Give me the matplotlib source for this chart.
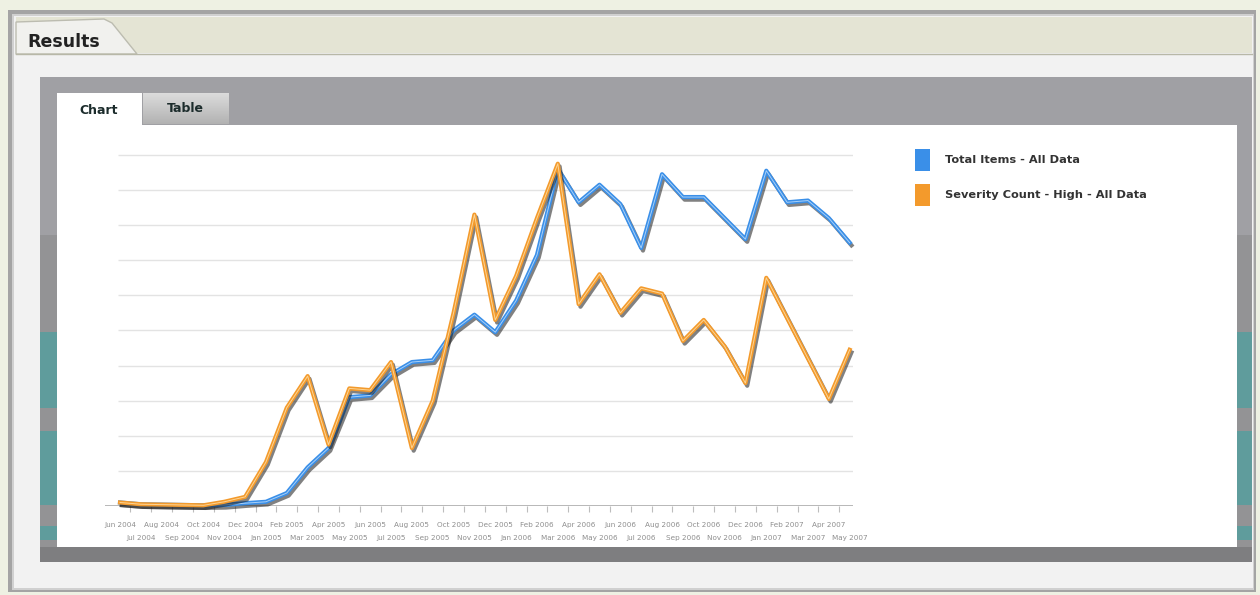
import numpy as np
import matplotlib
matplotlib.use('Agg')
import matplotlib.pyplot as plt
import matplotlib.patheffects as pe
from matplotlib.patches import Rectangle, Polygon

# monthly series, Jun 2004 .. May 2007
months = ['Jun 2004', 'Jul 2004', 'Aug 2004', 'Sep 2004', 'Oct 2004', 'Nov 2004',
          'Dec 2004', 'Jan 2005', 'Feb 2005', 'Mar 2005', 'Apr 2005', 'May 2005',
          'Jun 2005', 'Jul 2005', 'Aug 2005', 'Sep 2005', 'Oct 2005', 'Nov 2005',
          'Dec 2005', 'Jan 2006', 'Feb 2006', 'Mar 2006', 'Apr 2006', 'May 2006',
          'Jun 2006', 'Jul 2006', 'Aug 2006', 'Sep 2006', 'Oct 2006', 'Nov 2006',
          'Dec 2006', 'Jan 2007', 'Feb 2007', 'Mar 2007', 'Apr 2007', 'May 2007']

total_items = [1.0, 0.5, 0.4, 0.3, 0.2, 0.3, 0.8, 1.2, 3.7, 11.0, 16.5, 31.0,
               31.5, 37.5, 41.0, 41.5, 50.0, 54.5, 49.5, 58.5, 71.5, 96.0, 86.5, 91.5,
               86.0, 73.5, 94.5, 88.0, 88.0, 82.0, 76.0, 95.5, 86.5, 87.0, 82.0, 75.0]

severity_high = [1.0, 0.5, 0.4, 0.3, 0.2, 1.2, 2.6, 12.5, 28.0, 37.0, 17.5, 33.5,
                 33.0, 41.0, 16.5, 30.0, 55.0, 83.0, 53.0, 65.5, 82.0, 97.5, 57.5, 66.0,
                 55.0, 62.0, 60.5, 47.0, 53.0, 45.5, 35.0, 65.0, 53.5, 42.0, 30.5, 44.5]

series_names = ['Total Items - All Data', 'Severity Count - High - All Data']
series_colors = ['#3a8fe8', '#f39a2c']
highlight_colors = ['#a9d0f7', '#fcd596']

W, H = 1260, 595
fig = plt.figure(figsize=(W / 100, H / 100), dpi=100)
fig.patch.set_facecolor('#eef1e3')

# page chrome in pixel coordinates
bg = fig.add_axes([0, 0, 1, 1])
bg.set_xlim(0, W)
bg.set_ylim(H, 0)
bg.axis('off')


def box(x0, y0, x1, y1, color, **kw):
    bg.add_patch(Rectangle((x0, y0), x1 - x0, y1 - y0, facecolor=color,
                           edgecolor='none', **kw))


box(8, 10, 1256, 592, '#a4a4a4')
box(12, 14, 1254, 590, '#d0d0d0')
box(14, 16, 1253, 588, '#f2f2f2')

# header bar with the Results tab
box(16, 17, 1252, 53, '#e4e4d4')
bg.plot([16, 1252], [53.5, 53.5], color='#b8b8a8', lw=1)
bg.add_patch(Polygon([(16, 54), (16, 22), (104, 19), (112, 23), (137, 54)],
                     closed=True, facecolor='#f1f1ee', edgecolor='#bcbcb0', lw=1))
bg.text(27, 42, 'Results', fontsize=12.5, fontweight='bold', color='#222222',
        va='center', ha='left')

# grey frame around the chart
box(40, 77, 1252, 562, '#a0a0a4')
for x0, x1 in [(40, 57), (1237, 1252)]:
    box(x0, 235, x1, 547, '#939395')
    for y0, y1 in [(332, 408), (431, 505), (526, 540)]:
        box(x0, y0, x1, y1, '#5f9c9c')
box(40, 547, 1252, 562, '#7e7e80')
box(57, 125, 1237, 547, 'white')

# tabs
grad = np.linspace(0.86, 0.70, 32)[:, None, None] * np.ones((1, 2, 3))
bg.imshow(grad, extent=(143, 229, 124, 93), aspect='auto', zorder=2)
bg.set_xlim(0, W)
bg.set_ylim(H, 0)
box(57, 93, 142, 127, 'white', zorder=2)
bg.text(99, 111, 'Chart', fontsize=9, fontweight='bold', color='#1c2c2c',
        ha='center', va='center', zorder=3)
bg.text(185, 109, 'Table', fontsize=9, fontweight='bold', color='#1c2c2c',
        ha='center', va='center', zorder=3)

# legend
for i, (name, col) in enumerate(zip(series_names, series_colors)):
    y0 = 149 + i * 35
    box(915, y0, 930, y0 + 22, col)
    bg.text(945, y0 + 11, name, fontsize=8.2, fontweight='bold', color='#333333',
            ha='left', va='center')

# plot area
ax = fig.add_axes([105 / W, (H - 506) / H, (853 - 105) / W, 356 / H])
ax.set_xlim(-0.72, 35.16)
ax.set_ylim(0, 101.4)
ax.patch.set_alpha(0)
for s in ax.spines.values():
    s.set_visible(False)
ax.set_yticks([])

x = np.arange(len(months))
ax.hlines(np.arange(10, 101, 10), -0.1, 35.16, color='#e3e3e3', lw=1, zorder=1)
ax.axhline(0, color='#ababab', lw=1.2, zorder=1)
ax.set_xticks(x[:-1] + 0.5)
ax.tick_params(axis='x', length=4, width=0.8, color='#bdbdbd', labelbottom=False)

for i, lab in enumerate(months):
    ax.text(x[i], -5.4 if i % 2 == 0 else -9.1, lab, fontsize=5.2, color='#8e8e8e',
            ha='center', va='center', clip_on=False)

for vals, col, hi in zip([total_items, severity_high], series_colors, highlight_colors):
    ax.plot(x, vals, color=col, lw=3, clip_on=False, zorder=3,
            path_effects=[pe.SimpleLineShadow(offset=(1.3, -1.9), shadow_color='#1a1a1a',
                                              alpha=0.55),
                          pe.Normal()])
    ax.plot(x, vals, color=hi, lw=0.7, clip_on=False, zorder=3)

fig.savefig('out.png', dpi=100, facecolor=fig.get_facecolor())
